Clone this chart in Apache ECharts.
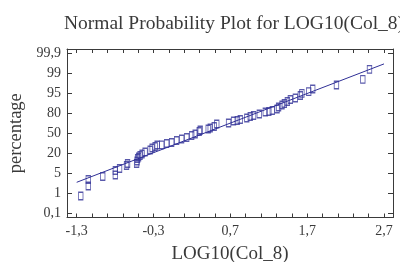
<!DOCTYPE html>
<html>
<head>
<meta charset="utf-8">
<script src="https://cdn.jsdelivr.net/npm/echarts@6/dist/echarts.min.js"></script>
<style>
  html, body { margin: 0; padding: 0; background: #fff; }
  #chart { width: 400px; height: 262px; }
</style>
</head>
<body>
<div id="chart"></div>
<script>
// LOG10(Col_8) values
var xValues = [-1.247, -1.149, -1.149, -0.961, -0.797, -0.797, -0.742, -0.651, -0.638, -0.520,
  -0.514, -0.507, -0.494, -0.475, -0.449, -0.410, -0.344, -0.318, -0.279, -0.253,
  -0.194, -0.129, -0.064, 0.001, 0.066, 0.132, 0.197, 0.242, 0.295, 0.308,
  0.412, 0.438, 0.490, 0.523, 0.677, 0.742, 0.790, 0.829, 0.914, 0.959,
  1.002, 1.077, 1.155, 1.201, 1.246, 1.308, 1.328, 1.373, 1.403, 1.442,
  1.481, 1.546, 1.611, 1.631, 1.720, 1.772, 2.081, 2.424, 2.511];
// position on the probability scale (0 = 0,1%  ...  8 = 99,9%)
var probPos = [0.865, 1.365, 1.69, 1.84, 1.915, 2.14, 2.24, 2.39, 2.49, 2.49,
  2.615, 2.74, 2.815, 2.89, 2.965, 3.065, 3.165, 3.265, 3.34, 3.415,
  3.42, 3.49, 3.54, 3.64, 3.715, 3.79, 3.89, 3.965, 4.09, 4.165,
  4.215, 4.265, 4.34, 4.465, 4.515, 4.615, 4.64, 4.69, 4.765, 4.84,
  4.89, 4.965, 5.065, 5.09, 5.14, 5.215, 5.315, 5.415, 5.49, 5.59,
  5.69, 5.765, 5.89, 6.0, 6.08, 6.215, 6.415, 6.7, 7.2];
// fitted line
var fitX = [-1.3, 2.7];
var fitY = [1.55, 7.47];
// axis labels
var probLabels = ['0,1', '1', '5', '20', '50', '80', '95', '99', '99,9'];
var xLabelValues = [-1.3, -0.3, 0.7, 1.7, 2.7];

var probTicks = probLabels.map(function (l, i) { return i; });
var xTicks = [];
for (var i = 0; i <= 20; i++) {
  xTicks.push(Math.round((-1.3 + i * 0.2) * 10) / 10);
}

var points = xValues.map(function (x, i) { return [x, probPos[i]]; });
var fitLine = fitX.map(function (x, i) { return [x, fitY[i]]; });

var fontFamily = '"Liberation Serif", "DejaVu Serif", serif';
var textColor = '#3a3a3a';
var axisColor = '#3a3a3a';
var blue = '#2f2f96';

var chart = echarts.init(document.getElementById('chart'));

var xBase = {
  type: 'value',
  min: -1.426,
  max: 2.817,
  splitLine: { show: false },
  axisLine: { show: true, onZero: false, lineStyle: { color: axisColor, width: 1 } },
  axisTick: { show: true, inside: true, length: 4, customValues: xTicks, lineStyle: { color: axisColor } }
};
var yBase = {
  type: 'value',
  min: -0.21,
  max: 8.215,
  splitLine: { show: false },
  axisLine: { show: true, onZero: false, lineStyle: { color: axisColor, width: 1 } },
  axisTick: { show: true, inside: true, length: 5, customValues: probTicks, lineStyle: { color: axisColor } }
};

chart.setOption({
  animation: false,
  textStyle: { fontFamily: fontFamily },
  title: {
    text: 'Normal Probability Plot for LOG10(Col_8)',
    left: 229,
    textAlign: 'center',
    top: 9,
    textStyle: { fontFamily: fontFamily, fontSize: 19.5, fontWeight: 'normal', color: textColor }
  },
  grid: { left: 67, right: 7, top: 49, bottom: 44.5, containLabel: false, outerBoundsMode: 'none' },
  xAxis: [
    Object.assign({}, xBase, {
      position: 'bottom',
      name: 'LOG10(Col_8)',
      nameLocation: 'middle',
      nameGap: 27,
      nameTextStyle: { fontFamily: fontFamily, fontSize: 19, color: textColor },
      axisLabel: {
        show: true,
        margin: 7,
        customValues: xLabelValues,
        fontFamily: fontFamily,
        fontSize: 14,
        color: textColor,
        formatter: function (v) { return v.toFixed(1).replace('.', ','); }
      }
    }),
    Object.assign({}, xBase, { position: 'top', axisLabel: { show: false } })
  ],
  yAxis: [
    Object.assign({}, yBase, {
      position: 'left',
      name: 'percentage',
      nameLocation: 'middle',
      nameGap: 38,
      nameTextStyle: { fontFamily: fontFamily, fontSize: 18.5, color: textColor },
      axisLabel: {
        show: true,
        margin: 6,
        customValues: probTicks,
        fontFamily: fontFamily,
        fontSize: 14,
        color: textColor,
        formatter: function (v) { return probLabels[Math.round(v)]; }
      }
    }),
    Object.assign({}, yBase, { position: 'right', axisLabel: { show: false } })
  ],
  series: [
    {
      name: 'fit',
      type: 'line',
      data: fitLine,
      symbol: 'none',
      lineStyle: { color: blue, width: 1 },
      z: 1
    },
    {
      name: 'LOG10(Col_8)',
      type: 'scatter',
      data: points,
      symbol: 'rect',
      symbolSize: [4.5, 7.5],
      itemStyle: { color: 'rgba(255,255,255,0)', borderColor: blue, borderWidth: 1 },
      z: 2
    }
  ]
});
</script>
</body>
</html>
